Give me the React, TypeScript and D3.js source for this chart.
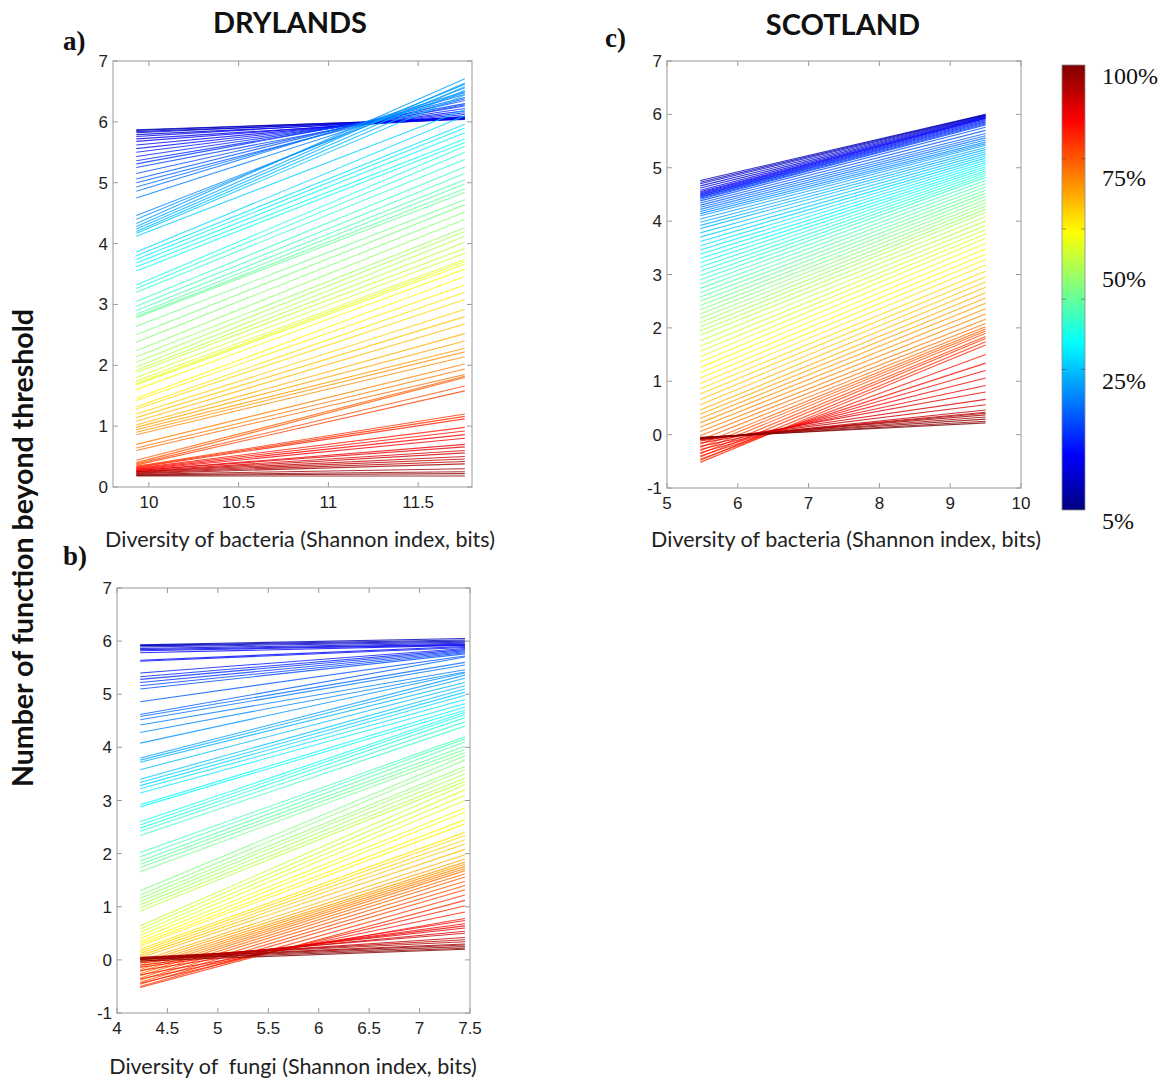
import React from 'react';
import * as d3 from 'd3';

// Thresholds (%) used to count functions; one regression line per threshold.
const thresholds = [
  5, 6, 7, 8, 9, 10, 11, 12, 13, 14, 15, 16, 17, 18, 19, 20,
  21, 22, 23, 24, 25, 26, 27, 28, 29, 30, 31, 32, 33, 34, 35, 36,
  37, 38, 39, 40, 41, 42, 43, 44, 45, 46, 47, 48, 49, 50, 51, 52,
  53, 54, 55, 56, 57, 58, 59, 60, 61, 62, 63, 64, 65, 66, 67, 68,
  69, 70, 71, 72, 73, 74, 75, 76, 77, 78, 79, 80, 81, 82, 83, 84,
  85, 86, 87, 88, 89, 90, 91, 92, 93, 94, 95, 96, 97, 98, 99, 100,
];

// a) Drylands, bacterial diversity
const drylandsBacteriaSpan = [9.93, 11.76];
const drylandsBacteriaStart = [
  5.87, 5.86, 5.84, 5.82, 5.79, 5.76, 5.72, 5.68,
  5.62, 5.56, 5.50, 5.43, 5.36, 5.31, 5.25, 5.15,
  5.06, 5.00, 4.93, 4.86, 4.75, 4.46, 4.40, 4.33,
  4.28, 4.24, 4.20, 4.17, 4.12, 3.86, 3.80, 3.74,
  3.68, 3.62, 3.55, 3.32, 3.26, 3.20, 3.05, 2.97,
  2.90, 2.84, 2.80, 2.78, 2.64, 2.50, 2.38, 2.24,
  2.14, 2.05, 1.97, 1.92, 1.88, 1.80, 1.74, 1.70,
  1.68, 1.60, 1.46, 1.42, 1.32, 1.28, 1.20, 1.14,
  1.08, 1.02, 0.98, 0.94, 0.90, 0.86, 0.70, 0.64,
  0.60, 0.44, 0.40, 0.38, 0.36, 0.34, 0.33, 0.32,
  0.31, 0.30, 0.29, 0.28, 0.27, 0.27, 0.26, 0.25,
  0.25, 0.24, 0.23, 0.22, 0.21, 0.20, 0.19, 0.18,
];
const drylandsBacteriaEnd = [
  6.05, 6.06, 6.04, 6.07, 6.05, 6.08, 6.06, 6.09,
  6.12, 6.15, 6.18, 6.22, 6.26, 6.30, 6.28, 6.35,
  6.40, 6.38, 6.45, 6.50, 6.48, 6.56, 6.62, 6.71,
  6.64, 6.58, 6.52, 6.44, 6.20, 6.10, 5.96, 5.90,
  5.82, 5.72, 5.66, 5.60, 5.50, 5.38, 5.26, 5.15,
  5.05, 4.98, 4.90, 4.84, 4.72, 4.64, 4.52, 4.40,
  4.26, 4.20, 4.12, 4.02, 3.92, 3.84, 3.74, 3.70,
  3.66, 3.58, 3.46, 3.32, 3.20, 3.08, 2.92, 2.80,
  2.68, 2.52, 2.40, 2.28, 2.22, 2.14, 2.02, 1.94,
  1.85, 1.82, 1.80, 1.66, 1.58, 1.20, 1.16, 1.12,
  0.98, 0.92, 0.86, 0.80, 0.70, 0.66, 0.60, 0.56,
  0.50, 0.46, 0.42, 0.38, 0.30, 0.25, 0.22, 0.18,
];

// b) Drylands, fungal diversity
const drylandsFungiSpan = [4.23, 7.45];
const drylandsFungiStart = [
  5.93, 5.92, 5.91, 5.89, 5.86, 5.84, 5.82, 5.78,
  5.64, 5.62, 5.40, 5.33, 5.28, 5.22, 5.16, 5.10,
  4.86, 4.62, 4.58, 4.52, 4.42, 4.28, 4.08, 3.80,
  3.76, 3.72, 3.58, 3.40, 3.34, 3.28, 3.22, 3.14,
  2.92, 2.88, 2.60, 2.54, 2.48, 2.42, 2.34, 2.02,
  1.94, 1.86, 1.80, 1.74, 1.66, 1.30, 1.22, 1.16,
  1.10, 1.04, 0.98, 0.92, 0.64, 0.58, 0.52, 0.46,
  0.40, 0.34, 0.30, 0.26, 0.20, 0.16, 0.12, 0.08,
  0.04, -0.02, -0.06, -0.10, -0.14, -0.18, -0.22, -0.26,
  -0.30, -0.34, -0.38, -0.42, -0.46, -0.50, -0.52, -0.44,
  -0.36, -0.28, -0.20, -0.14, -0.10, -0.06, -0.03, 0.00,
  0.02, 0.04, 0.05, 0.04, 0.03, 0.02, 0.01, -0.02,
];
const drylandsFungiEnd = [
  6.05, 6.02, 6.00, 5.98, 5.96, 5.94, 5.93, 5.92,
  5.90, 5.88, 5.86, 5.84, 5.82, 5.80, 5.78, 5.76,
  5.72, 5.70, 5.60, 5.55, 5.46, 5.42, 5.40, 5.36,
  5.30, 5.22, 5.16, 5.10, 5.04, 4.98, 4.90, 4.82,
  4.76, 4.70, 4.66, 4.62, 4.56, 4.48, 4.40, 4.20,
  4.16, 4.10, 4.02, 3.96, 3.90, 3.84, 3.76, 3.64,
  3.58, 3.50, 3.42, 3.36, 3.30, 3.20, 3.10, 3.00,
  2.86, 2.78, 2.64, 2.56, 2.40, 2.34, 2.26, 2.18,
  2.08, 1.98, 1.90, 1.84, 1.80, 1.76, 1.72, 1.68,
  1.62, 1.56, 1.48, 1.40, 1.32, 1.22, 1.12, 1.02,
  0.90, 0.78, 0.74, 0.68, 0.64, 0.60, 0.54, 0.50,
  0.42, 0.38, 0.34, 0.30, 0.28, 0.25, 0.22, 0.20,
];

// c) Scotland, bacterial diversity
const scotlandBacteriaSpan = [5.47, 9.5];
const scotlandBacteriaStart = [
  4.76, 4.73, 4.70, 4.66, 4.62, 4.58, 4.55, 4.53,
  4.51, 4.49, 4.48, 4.46, 4.45, 4.43, 4.41, 4.38,
  4.34, 4.30, 4.26, 4.22, 4.18, 4.14, 4.10, 4.04,
  3.98, 3.92, 3.86, 3.78, 3.70, 3.62, 3.54, 3.46,
  3.38, 3.30, 3.22, 3.14, 3.06, 2.98, 2.90, 2.82,
  2.74, 2.66, 2.58, 2.50, 2.42, 2.34, 2.26, 2.18,
  2.10, 2.02, 1.94, 1.86, 1.76, 1.66, 1.56, 1.46,
  1.36, 1.26, 1.16, 1.06, 0.96, 0.86, 0.76, 0.66,
  0.56, 0.46, 0.38, 0.30, 0.22, 0.14, 0.06, -0.02,
  -0.10, -0.18, -0.24, -0.30, -0.36, -0.42, -0.48, -0.52,
  -0.46, -0.40, -0.34, -0.28, -0.22, -0.16, -0.12, -0.10,
  -0.09, -0.08, -0.08, -0.07, -0.07, -0.06, -0.06, -0.05,
];
const scotlandBacteriaEnd = [
  6.00, 5.99, 5.98, 5.97, 5.96, 5.95, 5.94, 5.93,
  5.92, 5.90, 5.88, 5.86, 5.84, 5.82, 5.80, 5.76,
  5.70, 5.64, 5.60, 5.56, 5.52, 5.48, 5.45, 5.42,
  5.38, 5.34, 5.30, 5.26, 5.22, 5.18, 5.14, 5.10,
  5.06, 5.02, 4.98, 4.94, 4.90, 4.86, 4.82, 4.76,
  4.70, 4.64, 4.58, 4.52, 4.46, 4.40, 4.34, 4.28,
  4.22, 4.16, 4.08, 4.00, 3.92, 3.84, 3.76, 3.68,
  3.58, 3.48, 3.38, 3.28, 3.18, 3.06, 2.96, 2.86,
  2.76, 2.66, 2.56, 2.46, 2.36, 2.26, 2.16, 2.08,
  2.02, 1.98, 1.94, 1.90, 1.84, 1.80, 1.74, 1.68,
  1.50, 1.34, 1.20, 1.06, 0.92, 0.80, 0.66, 0.56,
  0.46, 0.42, 0.40, 0.37, 0.33, 0.29, 0.25, 0.22,
];

// Axis ticks
const drylandsBacteriaTicks = [10, 10.5, 11, 11.5];
const drylandsFungiTicks = [4, 4.5, 5, 5.5, 6, 6.5, 7, 7.5];
const scotlandBacteriaTicks = [5, 6, 7, 8, 9, 10];
const countTicksPositive = [0, 1, 2, 3, 4, 5, 6, 7];
const countTicksWithNegative = [-1, 0, 1, 2, 3, 4, 5, 6, 7];

// Colour bar
const colorbarLabels = [100, 75, 50, 25];
const colorbarMinLabel = 5;
const colorbarTickValues = [0.2, 0.35, 0.5, 0.65, 0.8, 0.95];

// MATLAB-style "jet" colour map, t in [0, 1]
function jet(t: number): string {
  const c = (v: number) => Math.max(0, Math.min(1, v));
  const r = c(1.5 - Math.abs(4 * t - 3));
  const g = c(1.5 - Math.abs(4 * t - 2));
  const b = c(1.5 - Math.abs(4 * t - 1));
  return d3.rgb(r * 255, g * 255, b * 255).formatHex();
}

const tickFont = '"Liberation Sans", Arial, sans-serif';
const labelFont = 'Lato, "Open Sans", sans-serif';
const serifFont = '"Liberation Serif", "Times New Roman", serif';
const axisGray = '#9a9a9a';

type PanelProps = {
  left: number;
  top: number;
  width: number;
  height: number;
  xDomain: [number, number];
  yDomain: [number, number];
  xTicks: number[];
  yTicks: number[];
  span: number[];
  starts: number[];
  ends: number[];
};

function Panel(p: PanelProps) {
  const x = d3.scaleLinear().domain(p.xDomain).range([p.left, p.left + p.width]);
  const y = d3.scaleLinear().domain(p.yDomain).range([p.top + p.height, p.top]);
  const bottom = p.top + p.height;
  const right = p.left + p.width;
  const tl = 5;
  return (
    <g>
      <rect x={p.left} y={p.top} width={p.width} height={p.height} fill="#fff" />
      {thresholds.map((t, i) => (
        <line
          key={t}
          x1={x(p.span[0])}
          y1={y(p.starts[i])}
          x2={x(p.span[1])}
          y2={y(p.ends[i])}
          stroke={jet(t / 100)}
          strokeWidth={1.1}
          strokeOpacity={0.8}
        />
      ))}
      <rect x={p.left} y={p.top} width={p.width} height={p.height} fill="none" stroke={axisGray} strokeWidth={1} />
      {p.xTicks.map((v) => (
        <g key={'x' + v}>
          <line x1={x(v)} x2={x(v)} y1={bottom} y2={bottom - tl} stroke={axisGray} />
          <line x1={x(v)} x2={x(v)} y1={p.top} y2={p.top + tl} stroke={axisGray} />
          <text x={x(v)} y={bottom + 21} textAnchor="middle" fontFamily={tickFont} fontSize={17} fill="#222">
            {String(v)}
          </text>
        </g>
      ))}
      {p.yTicks.map((v) => (
        <g key={'y' + v}>
          <line x1={p.left} x2={p.left + tl} y1={y(v)} y2={y(v)} stroke={axisGray} />
          <line x1={right} x2={right - tl} y1={y(v)} y2={y(v)} stroke={axisGray} />
          <text x={p.left - 5} y={y(v) + 6} textAnchor="end" fontFamily={tickFont} fontSize={17} fill="#222">
            {String(v)}
          </text>
        </g>
      ))}
    </g>
  );
}

function Colorbar() {
  const left = 1062;
  const width = 23;
  const top = 65;
  const bottom = 510;
  const pos = d3.scaleLinear().domain([0, 1]).range([bottom, top]);
  const tickPos = d3.scaleLinear().domain([0.05, 1]).range([bottom, top]);
  const labelPos = d3.scaleLinear().domain([25, 100]).range([389, 84]);
  const stops = d3.range(0, 1.0001, 1 / 32);
  return (
    <g>
      <defs>
        <linearGradient id="jetGrad" x1="0" y1="1" x2="0" y2="0">
          {stops.map((s) => (
            <stop key={s} offset={s} stopColor={jet(s)} />
          ))}
        </linearGradient>
      </defs>
      <rect x={left} y={pos(1)} width={width} height={pos(0) - pos(1)} fill="url(#jetGrad)" stroke="#8a8a8a" strokeWidth={0.8} />
      {colorbarTickValues.map((v) => (
        <g key={v}>
          <line x1={left} x2={left + 4} y1={tickPos(v)} y2={tickPos(v)} stroke="#333" strokeOpacity={0.45} />
          <line x1={left + width} x2={left + width - 4} y1={tickPos(v)} y2={tickPos(v)} stroke="#333" strokeOpacity={0.45} />
        </g>
      ))}
      {colorbarLabels.map((v) => (
        <text key={v} x={1102} y={labelPos(v)} fontFamily={serifFont} fontSize={24} fill="#111">
          {v}%
        </text>
      ))}
      <text x={1102} y={bottom + 19} fontFamily={serifFont} fontSize={24} fill="#111">
        {colorbarMinLabel}%
      </text>
    </g>
  );
}

export default function App() {
  return (
    <svg
      width={1171}
      height={1082}
      viewBox="0 0 1171 1082"
      style={{ position: 'absolute', left: 0, top: 0, background: '#fff' }}
    >
      <rect x={0} y={0} width={1171} height={1082} fill="#fff" />

      {/* a) Drylands – bacteria */}
      <text x={63} y={50} fontFamily={serifFont} fontWeight="bold" fontSize={27} fill="#111">a)</text>
      <text x={290} y={33} textAnchor="middle" fontFamily={labelFont} fontWeight="bold" fontSize={29} fill="#111">DRYLANDS</text>
      <Panel
        left={113}
        top={61}
        width={359}
        height={426}
        xDomain={[9.8, 11.8]}
        yDomain={[0, 7]}
        xTicks={drylandsBacteriaTicks}
        yTicks={countTicksPositive}
        span={drylandsBacteriaSpan}
        starts={drylandsBacteriaStart}
        ends={drylandsBacteriaEnd}
      />
      <text x={300} y={547} textAnchor="middle" fontFamily={labelFont} fontSize={21.5} fill="#222">
        Diversity of bacteria (Shannon index, bits)
      </text>

      {/* b) Drylands – fungi */}
      <text x={63} y={565} fontFamily={serifFont} fontWeight="bold" fontSize={27} fill="#111">b)</text>
      <Panel
        left={117}
        top={588}
        width={353}
        height={425}
        xDomain={[4, 7.5]}
        yDomain={[-1, 7]}
        xTicks={drylandsFungiTicks}
        yTicks={countTicksWithNegative}
        span={drylandsFungiSpan}
        starts={drylandsFungiStart}
        ends={drylandsFungiEnd}
      />
      <text x={293} y={1074} textAnchor="middle" fontFamily={labelFont} fontSize={21.5} fill="#222" style={{ whiteSpace: 'pre' }}>
        {'Diversity of  fungi (Shannon index, bits)'}
      </text>

      {/* c) Scotland – bacteria */}
      <text x={605} y={47} fontFamily={serifFont} fontWeight="bold" fontSize={27} fill="#111">c)</text>
      <text x={843} y={35} textAnchor="middle" fontFamily={labelFont} fontWeight="bold" fontSize={29} fill="#111">SCOTLAND</text>
      <Panel
        left={667}
        top={61}
        width={354}
        height={427}
        xDomain={[5, 10]}
        yDomain={[-1, 7]}
        xTicks={scotlandBacteriaTicks}
        yTicks={countTicksWithNegative}
        span={scotlandBacteriaSpan}
        starts={scotlandBacteriaStart}
        ends={scotlandBacteriaEnd}
      />
      <text x={846} y={547} textAnchor="middle" fontFamily={labelFont} fontSize={21.5} fill="#222">
        Diversity of bacteria (Shannon index, bits)
      </text>

      <Colorbar />

      {/* shared y-axis title */}
      <text
        transform="translate(33, 548) rotate(-90)"
        textAnchor="middle"
        fontFamily={labelFont}
        fontWeight="bold"
        fontSize={28.5}
        fill="#111"
      >
        Number of function beyond threshold
      </text>
    </svg>
  );
}
